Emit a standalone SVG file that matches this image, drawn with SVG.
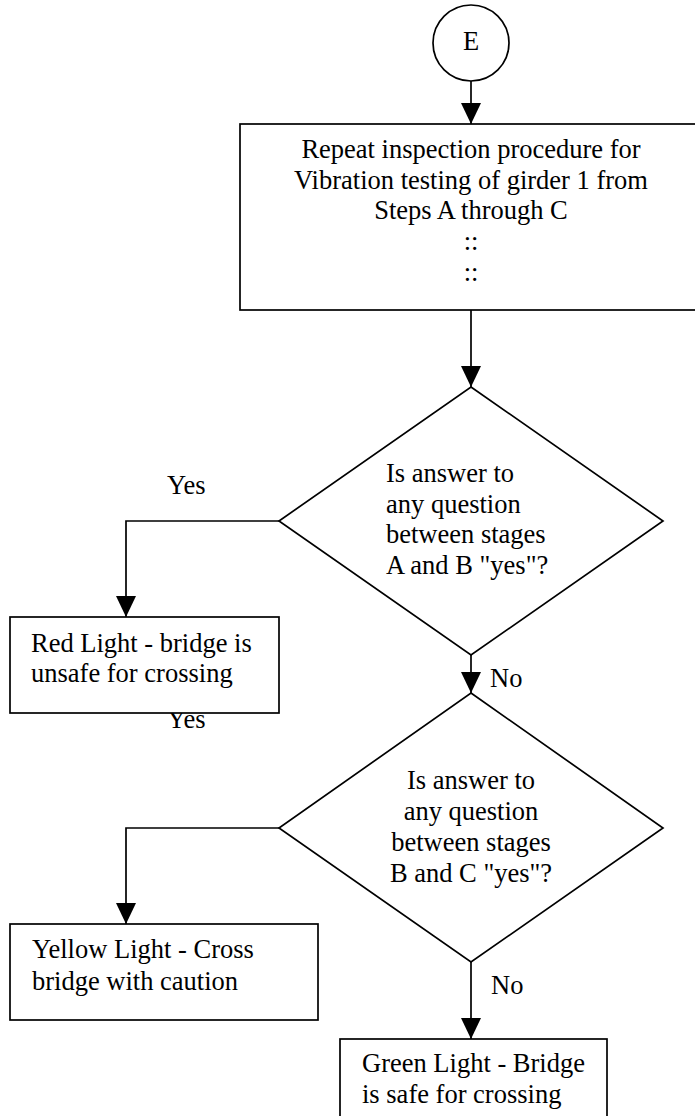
<svg xmlns="http://www.w3.org/2000/svg" width="695" height="1116" viewBox="0 0 695 1116">
  <style>
    .shape { fill: #ffffff; stroke: #000000; stroke-width: 1.7; }
    .line { fill: none; stroke: #000000; stroke-width: 1.7; }
    .txt { font-family: "Liberation Serif", "Times New Roman", serif; font-size: 26.5px; fill: #000000; }
    .mid { text-anchor: middle; }
  </style>
  <defs>
    <marker id="arrow" markerUnits="userSpaceOnUse" markerWidth="22" markerHeight="22" refX="21" refY="10" orient="auto">
      <path d="M0,0 L21,10 L0,20 Z" fill="#000000"/>
    </marker>
  </defs>
  <rect width="695" height="1116" fill="#ffffff"/>

  <!-- connectors -->
  <g id="connectors">
    <line class="line" x1="471" y1="81" x2="471" y2="124" marker-end="url(#arrow)"/>
    <line class="line" x1="471" y1="310" x2="471" y2="387" marker-end="url(#arrow)"/>
    <polyline class="line" points="279,521 126,521 126,617" marker-end="url(#arrow)"/>
    <line class="line" x1="471" y1="655" x2="471" y2="693" marker-end="url(#arrow)"/>
    <polyline class="line" points="279,828 126,828 126,924" marker-end="url(#arrow)"/>
    <line class="line" x1="471" y1="962" x2="471" y2="1039" marker-end="url(#arrow)"/>
    <text class="txt" x="167" y="494">Yes</text>
    <text class="txt" x="167" y="728">Yes</text>
    <text class="txt" x="490" y="687">No</text>
    <text class="txt" x="491" y="994">No</text>
  </g>

  <!-- start connector E -->
  <g id="node-e">
    <circle class="shape" cx="471" cy="43" r="38"/>
    <text class="txt mid" x="471" y="50">E</text>
  </g>

  <!-- repeat procedure box -->
  <g id="node-repeat">
    <rect class="shape" x="240" y="124" width="470" height="186"/>
    <text class="txt mid" x="471" y="158">Repeat inspection procedure for</text>
    <text class="txt mid" x="471" y="189">Vibration testing of girder 1 from</text>
    <text class="txt mid" x="471" y="219">Steps A through C</text>
    <text class="txt mid" x="471" y="250">::</text>
    <text class="txt mid" x="471" y="281">::</text>
  </g>

  <!-- decision A/B -->
  <g id="node-decision-ab">
    <polygon class="shape" points="471,387 663,521 471,655 279,521"/>
    <text class="txt" x="386" y="482">Is answer to</text>
    <text class="txt" x="386" y="513">any question</text>
    <text class="txt" x="386" y="543">between stages</text>
    <text class="txt" x="386" y="574">A and B "yes"?</text>
  </g>

  <!-- red light -->
  <g id="node-red">
    <rect class="shape" x="10" y="617" width="269" height="96"/>
    <text class="txt" x="31" y="652">Red Light - bridge is</text>
    <text class="txt" x="31" y="682">unsafe for crossing</text>
  </g>

  <!-- decision B/C -->
  <g id="node-decision-bc">
    <polygon class="shape" points="471,693 663,828 471,962 279,828"/>
    <text class="txt mid" x="471" y="789">Is answer to</text>
    <text class="txt mid" x="471" y="820">any question</text>
    <text class="txt mid" x="471" y="851">between stages</text>
    <text class="txt mid" x="471" y="882">B and C "yes"?</text>
  </g>

  <!-- yellow light -->
  <g id="node-yellow">
    <rect class="shape" x="10" y="924" width="308" height="96"/>
    <text class="txt" x="32" y="958">Yellow Light - Cross</text>
    <text class="txt" x="32" y="990">bridge with caution</text>
  </g>

  <!-- green light -->
  <g id="node-green">
    <rect class="shape" x="340" y="1039" width="267" height="100"/>
    <text class="txt" x="362" y="1072">Green Light - Bridge</text>
    <text class="txt" x="362" y="1103">is safe for crossing</text>
  </g>
</svg>
